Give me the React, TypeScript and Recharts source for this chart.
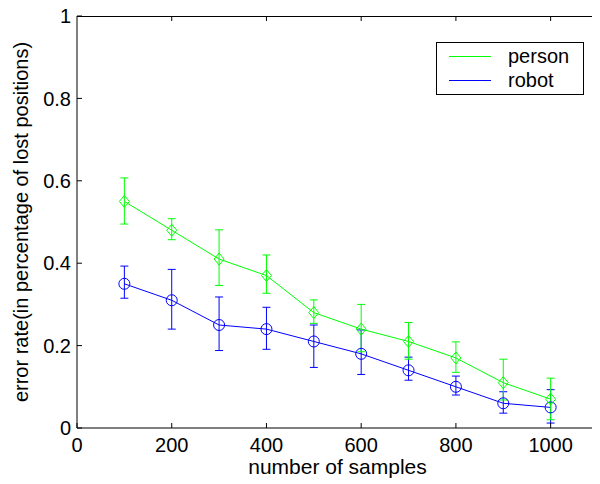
import { LineChart, Line, XAxis, YAxis, ErrorBar, Legend, Label, ReferenceLine } from "recharts";

const samples = [100, 200, 300, 400, 500, 600, 700, 800, 900, 1000];
const person = [0.55, 0.48, 0.41, 0.37, 0.28, 0.24, 0.21, 0.17, 0.11, 0.07];
const personLow = [0.495, 0.457, 0.346, 0.327, 0.254, 0.185, 0.167, 0.135, 0.068, 0.02];
const personHigh = [0.607, 0.508, 0.481, 0.42, 0.311, 0.3, 0.256, 0.209, 0.167, 0.121];
const robot = [0.35, 0.31, 0.25, 0.24, 0.21, 0.18, 0.14, 0.1, 0.06, 0.05];
const robotLow = [0.315, 0.24, 0.188, 0.191, 0.147, 0.13, 0.116, 0.08, 0.036, 0.012];
const robotHigh = [0.393, 0.385, 0.318, 0.293, 0.25, 0.238, 0.172, 0.126, 0.088, 0.093];

const xTicks = [0, 200, 400, 600, 800, 1000];
const yTicks = [0, 0.2, 0.4, 0.6, 0.8, 1];
const xMax = 1100;
const yMax = 1;
const seriesNames = ["person", "robot"];

const GREEN = "#00ff00";
const BLUE = "#0000ff";
const FONT = "'Liberation Sans', Arial, Helvetica, sans-serif";

const data = samples.map((n, i) => ({
  n,
  person: person[i],
  personErr: [person[i] - personLow[i], personHigh[i] - person[i]],
  robot: robot[i],
  robotErr: [robot[i] - robotLow[i], robotHigh[i] - robot[i]],
}));

const tickStyle = { fill: "#000", fontSize: 20, fontFamily: FONT };

function Diamond(props: any) {
  const { cx, cy, index } = props;
  if (cx == null || cy == null) return <g key={index} />;
  const pts = `${cx},${cy - 6} ${cx + 5},${cy} ${cx},${cy + 6} ${cx - 5},${cy}`;
  return <polygon key={index} points={pts} fill="none" stroke={GREEN} strokeWidth={1} />;
}

function Ring(props: any) {
  const { cx, cy, index } = props;
  if (cx == null || cy == null) return <g key={index} />;
  return <circle key={index} cx={cx} cy={cy} r={5.5} fill="none" stroke={BLUE} strokeWidth={1} />;
}

// inward tick stub at the top end of a vertical reference line
function TopTick(p: any) {
  const top = Math.min(p.y1, p.y2);
  return <line x1={p.x1} x2={p.x1} y1={top} y2={top + 5} stroke="#000" strokeWidth={1} />;
}

// inward tick stub at the right end of a horizontal reference line
function RightTick(p: any) {
  const right = Math.max(p.x1, p.x2);
  return <line x1={right} x2={right - 5} y1={p.y1} y2={p.y1} stroke="#000" strokeWidth={1} />;
}

function LegendBox() {
  const colors = [GREEN, BLUE];
  return (
    <div
      style={{
        border: "1px solid #000",
        background: "#fff",
        width: 146,
        height: 51,
        fontFamily: FONT,
        fontSize: 20,
        color: "#000",
        boxSizing: "content-box",
      }}
    >
      {seriesNames.map((name, i) => (
        <div key={name} style={{ display: "flex", alignItems: "center", height: 24, marginTop: i === 0 ? 1 : 0 }}>
          <div style={{ width: 42, height: 0, borderTop: `1px solid ${colors[i]}`, marginLeft: 12, marginRight: 17 }} />
          <span style={{ lineHeight: "24px" }}>{name}</span>
        </div>
      ))}
    </div>
  );
}

export default function App() {
  return (
    <div style={{ position: "relative", width: 592, height: 476 }}>
      <LineChart width={592} height={476} data={data} margin={{ top: 8, right: 2, left: 0, bottom: 0 }}>
        <XAxis
          dataKey="n"
          type="number"
          domain={[0, xMax]}
          ticks={xTicks}
          interval={0}
          height={56}
          stroke="#000"
          tickSize={-5}
          tickMargin={15}
          tick={tickStyle}
        >
          <Label value="number of samples" position="insideBottom" offset={10} fill="#000" fontSize={21} fontFamily={FONT} />
        </XAxis>
        <YAxis
          type="number"
          domain={[0, yMax]}
          ticks={yTicks}
          interval={0}
          width={69}
          stroke="#000"
          tickSize={-5}
          tickMargin={11}
          tick={tickStyle}
        >
          <Label
            value="error rate(in percentage of lost positions)"
            angle={-90}
            position="center"
            dx={-22}
            fill="#000"
            fontSize={20}
            fontFamily={FONT}
          />
        </YAxis>
        {xTicks.slice(1).map((t) => (
          <ReferenceLine key={`xt${t}`} x={t} shape={TopTick} />
        ))}
        {yTicks.slice(1, -1).map((t) => (
          <ReferenceLine key={`yt${t}`} y={t} shape={RightTick} />
        ))}
        <Legend
          layout="horizontal"
          verticalAlign="middle"
          align="center"
          content={() => <LegendBox />}
          wrapperStyle={{ position: "absolute", left: 428, top: 34, width: 148, height: 53 }}
        />
        <Line
          dataKey="robot"
          name="robot"
          stroke={BLUE}
          strokeWidth={1}
          dot={Ring}
          activeDot={false}
          isAnimationActive={false}
        >
          <ErrorBar dataKey="robotErr" direction="y" width={4} stroke={BLUE} strokeWidth={1} isAnimationActive={false} />
        </Line>
        <Line
          dataKey="person"
          name="person"
          stroke={GREEN}
          strokeWidth={1}
          dot={Diamond}
          activeDot={false}
          isAnimationActive={false}
        >
          <ErrorBar dataKey="personErr" direction="y" width={4} stroke={GREEN} strokeWidth={1} isAnimationActive={false} />
        </Line>
      </LineChart>
      {/* top and right edges of the axes box */}
      <div
        style={{
          position: "absolute",
          left: 69,
          top: 8,
          width: 521,
          height: 412,
          borderTop: "1px solid #000",
          borderRight: "1px solid #000",
          boxSizing: "border-box",
          pointerEvents: "none",
        }}
      />
    </div>
  );
}
